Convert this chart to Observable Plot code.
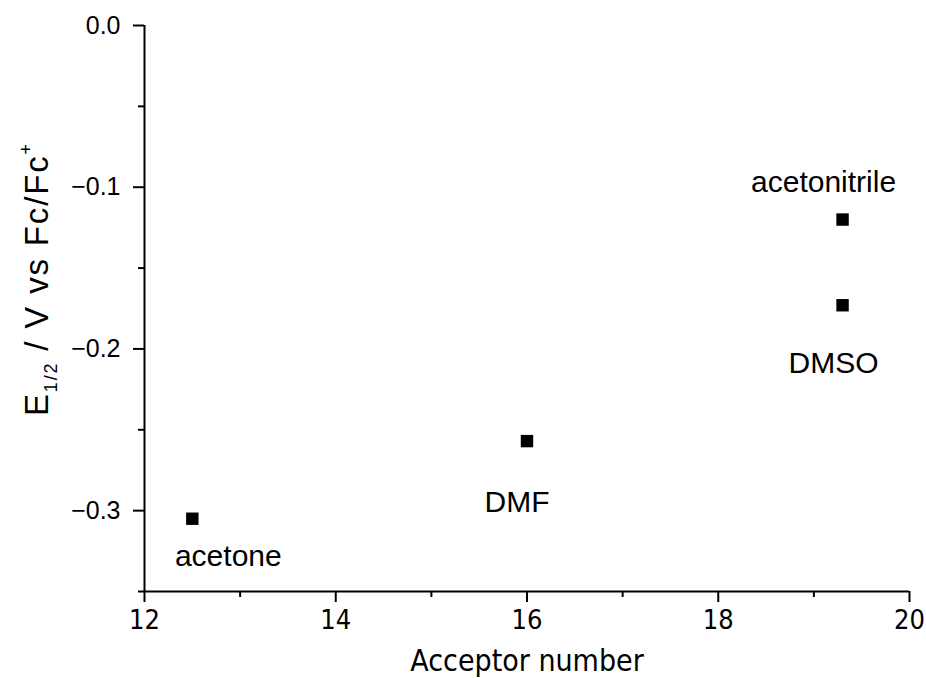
<!DOCTYPE html>
<html>
<head>
<meta charset="utf-8">
<script src="https://cdn.jsdelivr.net/npm/d3@7"></script>
<script src="https://cdn.jsdelivr.net/npm/@observablehq/plot@0.6"></script>
<style>
  html, body { margin: 0; padding: 0; background: #fff; }
  #chart svg { display: block; }
</style>
</head>
<body>
<div id="chart"></div>
<script>
// Data
const solvents = ["acetone", "DMF", "acetonitrile", "DMSO"];
const acceptorNumber = [12.5, 16.0, 19.3, 19.3];
const e12 = [-0.305, -0.257, -0.120, -0.173];
const xMajorTicks = [12, 14, 16, 18, 20];
const xMinorTicks = [13, 15, 17, 19];
const yMajorTicks = [0, -0.1, -0.2, -0.3];
const yMinorTicks = [-0.05, -0.15, -0.25, -0.35];

const data = solvents.map((s, i) => ({name: s, an: acceptorNumber[i], e: e12[i]}));

const narrow = "'Liberation Sans Narrow', 'DejaVu Sans Condensed', sans-serif";
const sans = "'Liberation Sans', Arial, sans-serif";

const plot = Plot.plot({
  width: 926,
  height: 678,
  marginLeft: 144,
  marginRight: 17,
  marginTop: 25,
  marginBottom: 87,
  style: {background: "#fff", color: "#000"},
  x: {domain: [12, 20]},
  y: {domain: [-0.35, 0]},
  marks: [
    Plot.axisY({ticks: yMajorTicks, tickSize: 11, tickPadding: 13, strokeWidth: 2,
      tickFormat: d => d === 0 ? "0.0" : "\u2212" + Math.abs(d).toFixed(1),
      fontSize: 25, fontFamily: sans, label: null}),
    Plot.axisY({ticks: yMinorTicks, tickSize: 6, strokeWidth: 2, text: null, label: null}),
    Plot.axisX({ticks: xMajorTicks, tickSize: 11, tickPadding: 7, strokeWidth: 2,
      tickFormat: d => String(d), fontSize: 27, fontFamily: narrow, label: null}),
    Plot.axisX({ticks: xMinorTicks, tickSize: 6, strokeWidth: 2, text: null, label: null}),
    Plot.ruleX([12], {strokeWidth: 2}),
    Plot.ruleY([-0.35], {strokeWidth: 2}),
    Plot.text(["Acceptor number"], {frameAnchor: "bottom", dy: 79, fontSize: 30, fontFamily: narrow}),
    Plot.dot(data, {x: "an", y: "e", symbol: "square", r: 7, fill: "#000", stroke: null}),
    Plot.text(data.filter(d => d.name === "acetone"), {x: "an", y: "e", text: "name", dx: 36, dy: 38, fontSize: 30, fontFamily: sans}),
    Plot.text(data.filter(d => d.name === "DMF"), {x: "an", y: "e", text: "name", dx: -10, dy: 61, fontSize: 30, fontFamily: sans}),
    Plot.text(data.filter(d => d.name === "acetonitrile"), {x: "an", y: "e", text: "name", dx: -19, dy: -37, fontSize: 30, fontFamily: sans}),
    Plot.text(data.filter(d => d.name === "DMSO"), {x: "an", y: "e", text: "name", dx: -9, dy: 58, fontSize: 30, fontFamily: sans})
  ]
});

// y-axis title with sub/superscripts
const svg = d3.select(plot);
const t = svg.append("text")
  .attr("transform", "translate(48,280) rotate(-90)")
  .attr("text-anchor", "middle")
  .attr("font-family", sans)
  .attr("font-size", 33)
  .attr("textLength", 272)
  .attr("lengthAdjust", "spacing")
  .attr("fill", "#000");
t.append("tspan").text("E");
t.append("tspan").attr("font-size", 18).attr("dy", 9).text("1/2");
t.append("tspan").attr("dy", -9).text(" / V vs Fc/Fc");
t.append("tspan").attr("font-size", 18).attr("dy", -16).text("+");

document.getElementById("chart").appendChild(plot);
</script>
</body>
</html>
